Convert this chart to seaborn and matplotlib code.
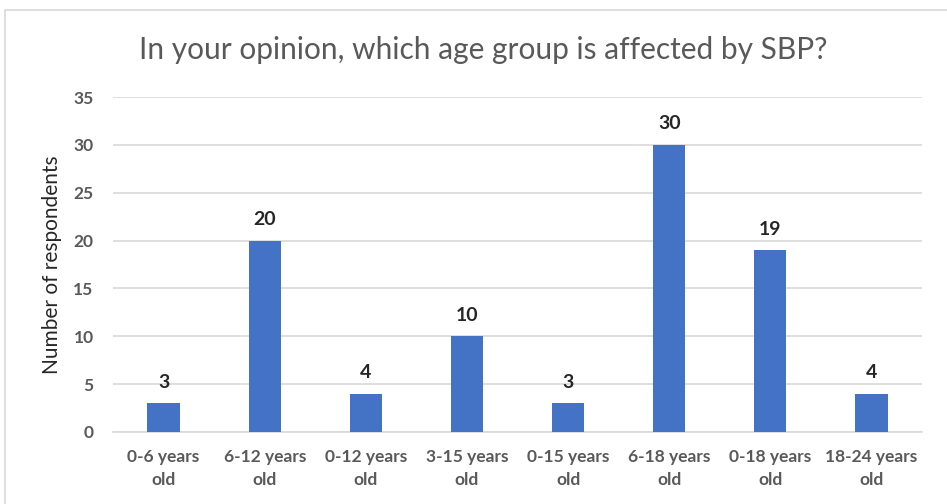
import matplotlib
matplotlib.use("Agg")
import matplotlib.pyplot as plt
import seaborn as sns
import pandas as pd
from matplotlib.patches import Rectangle

categories = ["0-6 years\nold", "6-12 years\nold", "0-12 years\nold", "3-15 years\nold",
              "0-15 years\nold", "6-18 years\nold", "0-18 years\nold", "18-24 years\nold"]
values = [3, 20, 4, 10, 3, 30, 19, 4]
yticks = [0, 5, 10, 15, 20, 25, 30, 35]

sns.set_style("white")
plt.rcParams['font.family'] = ['Lato', 'DejaVu Sans']

df = pd.DataFrame({"group": categories, "count": values})

fig = plt.figure(figsize=(9.47, 5.04), dpi=100)
fig.patches.append(Rectangle((5/947, -0.01), 1.0, 1 - 10/504 + 0.01, transform=fig.transFigure,
                             fill=False, edgecolor="#D9D9D9", linewidth=1.2))
ax = fig.add_axes([113/947, 72/504, 809/947, 335/504])
sns.barplot(data=df, x="group", y="count", color="#4472C4", width=0.32, saturation=1,
            linewidth=0, ax=ax, zorder=3)

ax.set_ylim(0, 35)
ax.set_yticks(yticks)
ax.set_yticklabels([str(t) for t in yticks])
ax.yaxis.grid(True, color="#D9D9D9", linewidth=1.2, zorder=0)
ax.set_axisbelow(True)
for s in ["top", "right", "left"]:
    ax.spines[s].set_visible(False)
ax.spines["bottom"].set_color("#D9D9D9")
ax.spines["bottom"].set_linewidth(1.2)
ax.tick_params(axis="both", length=0, colors="#595959", labelsize=12.5)
ax.tick_params(axis="y", pad=14)
ax.tick_params(axis="x", pad=12)
for lab in ax.get_xticklabels() + ax.get_yticklabels():
    lab.set_fontweight("bold")
for lab in ax.get_xticklabels():
    lab.set_linespacing(1.6)
ax.set_xlabel("")
ax.set_ylabel("Number of respondents", fontsize=15, color="#262626", labelpad=8)

for p, v in zip(ax.patches, values):
    ax.annotate(str(v), (p.get_x() + p.get_width() / 2, p.get_height()),
                xytext=(0, 9), textcoords="offset points", ha="center", va="bottom",
                fontsize=14, fontweight="bold", color="#262626")

fig.text(483/947, 1 - 50/504, "In your opinion, which age group is affected by SBP?",
         ha="center", va="center", fontsize=21.5, color="#595959")

fig.savefig("out.png", dpi=100, facecolor="white")
